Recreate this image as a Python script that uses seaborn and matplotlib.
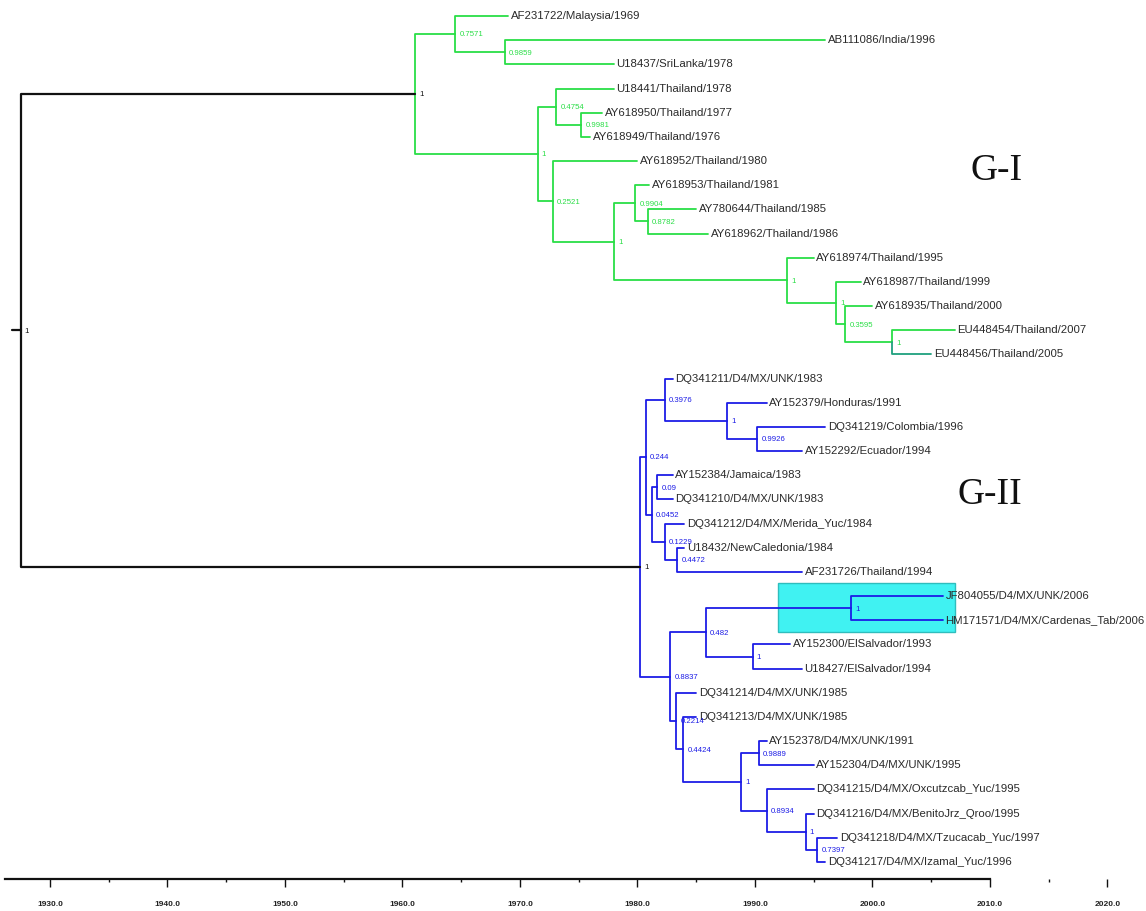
import numpy as np
import pandas as pd
import matplotlib
matplotlib.use("Agg")
import matplotlib.pyplot as plt
from matplotlib.patches import Rectangle
from matplotlib.ticker import MultipleLocator, FormatStrFormatter
import seaborn as sns

# ---- tips (top to bottom) ----
tip_labels = [
    "AF231722/Malaysia/1969", "AB111086/India/1996", "U18437/SriLanka/1978",
    "U18441/Thailand/1978", "AY618950/Thailand/1977", "AY618949/Thailand/1976",
    "AY618952/Thailand/1980", "AY618953/Thailand/1981", "AY780644/Thailand/1985",
    "AY618962/Thailand/1986", "AY618974/Thailand/1995", "AY618987/Thailand/1999",
    "AY618935/Thailand/2000", "EU448454/Thailand/2007", "EU448456/Thailand/2005",
    "DQ341211/D4/MX/UNK/1983", "AY152379/Honduras/1991", "DQ341219/Colombia/1996",
    "AY152292/Ecuador/1994", "AY152384/Jamaica/1983", "DQ341210/D4/MX/UNK/1983",
    "DQ341212/D4/MX/Merida_Yuc/1984", "U18432/NewCaledonia/1984", "AF231726/Thailand/1994",
    "JF804055/D4/MX/UNK/2006", "HM171571/D4/MX/Cardenas_Tab/2006",
    "AY152300/ElSalvador/1993", "U18427/ElSalvador/1994",
    "DQ341214/D4/MX/UNK/1985", "DQ341213/D4/MX/UNK/1985",
    "AY152378/D4/MX/UNK/1991", "AY152304/D4/MX/UNK/1995",
    "DQ341215/D4/MX/Oxcutzcab_Yuc/1995", "DQ341216/D4/MX/BenitoJrz_Qroo/1995",
    "DQ341218/D4/MX/Tzucacab_Yuc/1997", "DQ341217/D4/MX/Izamal_Yuc/1996",
]
tip_years = [1969, 1996, 1978, 1978, 1977, 1976, 1980, 1981, 1985, 1986, 1995, 1999,
             2000, 2007, 2005, 1983, 1991, 1996, 1994, 1983, 1983, 1984, 1984, 1994,
             2006, 2006, 1993, 1994, 1985, 1985, 1991, 1995, 1995, 1995, 1997, 1996]
tip_parents = ["A", "B", "B", "D", "F", "F", "E", "H", "J", "J", "I", "K", "L", "M", "M",
               "R", "S", "T", "T", "V", "V", "W", "X", "X", "AA", "AA", "BB", "BB",
               "Z", "AC", "AE", "AE", "AF", "AG", "AH", "AH"]
tip_groups = ["G-I"] * 14 + ["mix"] + ["G-II"] * 21

# ---- internal nodes: dated ancestors with posterior support ----
node_ids = ["root", "GI", "A", "B", "C", "D", "F", "E", "G", "H", "J", "I", "K", "L", "M",
            "GII", "P", "R", "S", "T", "U", "V", "W", "X", "Q", "Y", "AA", "BB",
            "Z", "AC", "AD", "AE", "AF", "AG", "AH"]
node_parents = [None, "root", "GI", "A", "GI", "C", "D", "C", "E", "G", "H", "G", "I", "K", "L",
                "root", "GII", "P", "R", "S", "P", "U", "U", "W", "GII", "Q", "Y", "Y",
                "Q", "Z", "AC", "AD", "AD", "AF", "AG"]
node_years = [1927.5, 1961.1, 1964.5, 1968.7, 1971.5, 1973.1, 1975.2, 1972.8, 1978.0,
              1979.8, 1980.9, 1992.7, 1996.9, 1997.7, 2001.7,
              1980.2, 1980.7, 1982.3, 1987.6, 1990.2, 1981.2, 1981.7, 1982.3, 1983.4,
              1982.8, 1985.8, 1998.2, 1989.8, 1983.3, 1983.9, 1988.8, 1990.3, 1991.0,
              1994.3, 1995.3]
node_support = ["1", "1", "0.7571", "0.9859", "1", "0.4754", "0.9981", "0.2521", "1",
                "0.9904", "0.8782", "1", "1", "0.3595", "1",
                "1", "0.244", "0.3976", "1", "0.9926", "0.0452", "0.09", "0.1229", "0.4472",
                "0.8837", "0.482", "1", "1", "0.2214", "0.4424", "1", "0.9889", "0.8934",
                "1", "0.7397"]
node_groups = ["root", "root"] + ["G-I"] * 13 + ["root"] + ["G-II"] * 19

root_stem_year = 1926.75
highlight_tips = ["JF804055/D4/MX/UNK/2006", "HM171571/D4/MX/Cardenas_Tab/2006"]
highlight_years = [1992.0, 2007.0]
clade_names = ["G-I", "G-II"]
clade_name_years = [2010.6, 2010.0]
clade_name_rows = [6.4, 19.8]

palette = {"root": "#111111", "G-I": "#2ade46", "G-II": "#1c1ce6", "mix": "#1fa07e"}

# ---- layout of the tree ----
tip_pos = {lab: i for i, lab in enumerate(tip_labels)}
children = {n: [] for n in node_ids}
for lab, par in zip(tip_labels, tip_parents):
    children[par].append(("tip", lab))
for nid, par in zip(node_ids, node_parents):
    if par is not None:
        children[par].append(("node", nid))

node_year = dict(zip(node_ids, node_years))
node_pos = {}


def place(nid):
    ys = []
    for kind, name in children[nid]:
        ys.append(tip_pos[name] if kind == "tip" else place(name))
    node_pos[nid] = (min(ys) + max(ys)) / 2
    return node_pos[nid]


place("root")

rows = []
bid = 0
for lab, yr, par, grp in zip(tip_labels, tip_years, tip_parents, tip_groups):
    py, px = node_pos[par], node_year[par]
    for k, (x, y) in enumerate([(px, py), (px, tip_pos[lab]), (yr, tip_pos[lab])]):
        rows.append((bid, k, x, y, grp))
    bid += 1
for nid, par, grp in zip(node_ids, node_parents, node_groups):
    if par is None:
        pts = [(root_stem_year, node_pos[nid]), (node_year[nid], node_pos[nid])]
    else:
        pts = [(node_year[par], node_pos[par]), (node_year[par], node_pos[nid]),
               (node_year[nid], node_pos[nid])]
    for k, (x, y) in enumerate(pts):
        rows.append((bid, k, x, y, grp))
    bid += 1
branches = pd.DataFrame(rows, columns=["branch", "step", "year", "row", "group"])

# ---- drawing ----
sns.set_theme(style="white")
plt.rcParams["font.family"] = ["Liberation Sans", "DejaVu Sans"]

fig = plt.figure(figsize=(11.46, 9.11), dpi=100)
ax = fig.add_axes([0.0, 32 / 911, 1.0, 1 - 32 / 911])

hl_rows = [tip_pos[t] for t in highlight_tips]
ax.add_patch(Rectangle((highlight_years[0], min(hl_rows) - 0.54),
                       highlight_years[1] - highlight_years[0],
                       max(hl_rows) - min(hl_rows) + 1.03,
                       facecolor="#40f2f2", edgecolor="#2fbdbd", lw=1.0, zorder=0))

black = branches[branches["group"] == "root"]
colored = branches[branches["group"] != "root"]
sns.lineplot(data=colored, x="year", y="row", units="branch", estimator=None, sort=False,
             hue="group", palette=palette, legend=False, linewidth=1.3, ax=ax, zorder=2)
sns.lineplot(data=black, x="year", y="row", units="branch", estimator=None, sort=False,
             color=palette["root"], legend=False, linewidth=1.6, ax=ax, zorder=2)

for lab, yr in zip(tip_labels, tip_years):
    ax.annotate(lab, (yr, tip_pos[lab]), xytext=(1.8, 0), textcoords="offset points",
                ha="left", va="center", fontsize=8.2, color="#2a2a2a")

for nid, par, sup, grp in zip(node_ids, node_parents, node_support, node_groups):
    ax.annotate(sup, (node_year[nid], node_pos[nid]), xytext=(3, -0.6),
                textcoords="offset points", ha="left", va="center", fontsize=5.6,
                color=palette[grp])

for name, yr, rw in zip(clade_names, clade_name_years, clade_name_rows):
    ax.text(yr, rw, name, ha="center", va="center", fontsize=27, color="#111111",
            family=["Liberation Serif", "DejaVu Serif"])

ax.set_xlim(1925.745, 2023.277)
ax.set_ylim(35.705, -0.662)
ax.set_xlabel("")
ax.set_ylabel("")
ax.set_yticks([])
for side in ["top", "right", "left"]:
    ax.spines[side].set_visible(False)
ax.spines["bottom"].set_bounds(1926.2, 2010)
ax.spines["bottom"].set_linewidth(1.6)
ax.spines["bottom"].set_color("#111111")
ax.xaxis.set_major_locator(MultipleLocator(10))
ax.xaxis.set_minor_locator(MultipleLocator(5))
ax.xaxis.set_major_formatter(FormatStrFormatter("%.1f"))
ax.tick_params(axis="x", which="major", length=6, width=1.0, pad=9.5, labelsize=6.0,
               direction="out", bottom=True, color="#111111", labelcolor="#222222")
ax.tick_params(axis="x", which="minor", length=2.5, width=1.0, direction="out",
               bottom=True, color="#111111")
for t in ax.get_xticklabels():
    t.set_fontweight("bold")
ax.set_facecolor("white")

fig.savefig("out.png", dpi=100, facecolor="white")
